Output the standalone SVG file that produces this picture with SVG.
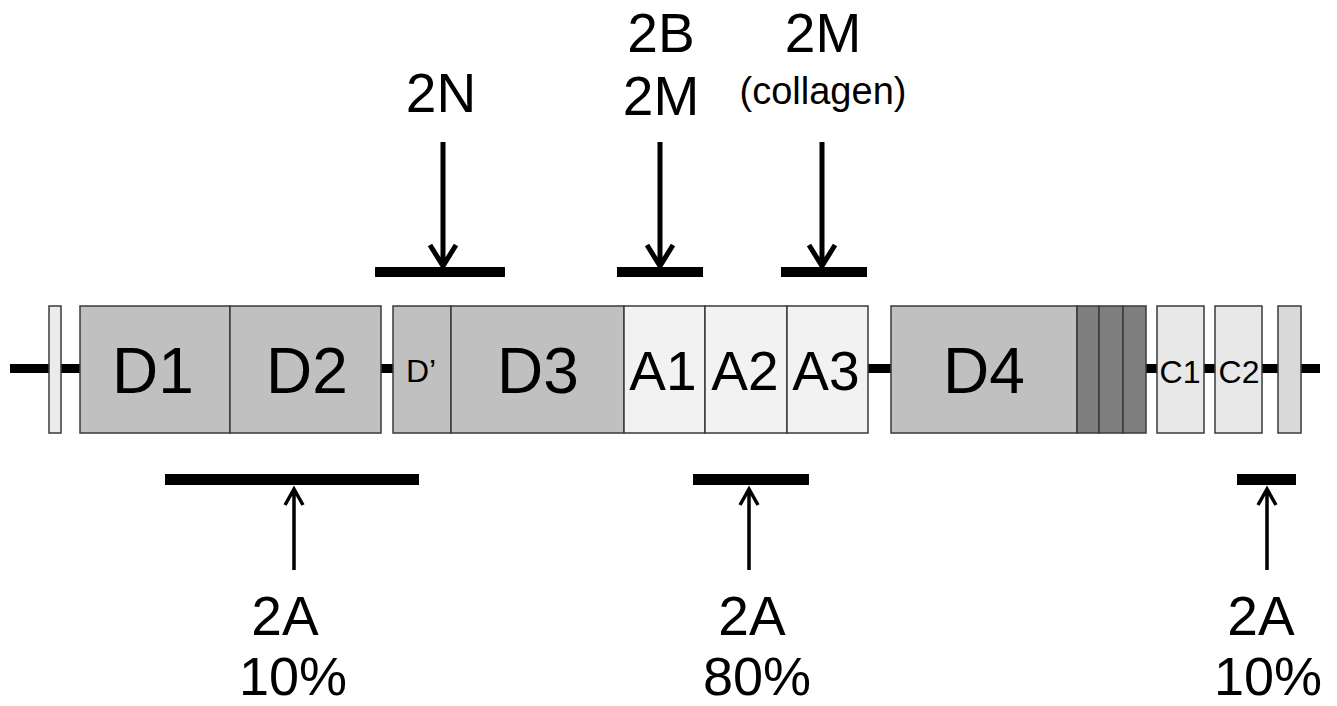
<svg xmlns="http://www.w3.org/2000/svg" width="1337" height="706" viewBox="0 0 1337 706">
  <style>
    .box { stroke: #3a3a3a; stroke-width: 1.5; }
    .d { fill: #c0c0c0; }
    .a { fill: #f2f2f2; }
    .c { fill: #e8e8e8; }
    .end { fill: #d9d9d9; }
    .sig { fill: #ebebeb; }
    .dark { fill: #7f7f7f; }
    text { font-family: "Liberation Sans", Arial, sans-serif; fill: #000; text-anchor: middle; }
    .big { font-size: 64px; }
    .mid { font-size: 55px; }
    .pct { font-size: 54px; }
    .small { font-size: 32px; }
    .note { font-size: 38px; }
    .bar { fill: #000; }
    .shaft { stroke: #000; fill: none; stroke-linecap: butt; stroke-linejoin: miter; }
    .top { stroke-width: 5; }
    .bot { stroke-width: 3.5; }
  </style>

  <!-- backbone -->
  <g id="connectors">
    <rect x="10" y="364" width="1310" height="9" fill="#000"/>
  </g>

  <!-- protein domains -->
  <g id="signal">
    <rect class="box sig" x="49" y="306" width="12" height="127"/>
  </g>
  <g id="D1">
    <rect class="box d" x="80" y="306" width="150" height="127"/>
    <text class="big" x="153" y="393">D1</text>
  </g>
  <g id="D2">
    <rect class="box d" x="230" y="306" width="151" height="127"/>
    <text class="big" x="307" y="393">D2</text>
  </g>
  <g id="Dprime">
    <rect class="box d" x="393" y="306" width="58" height="127"/>
    <text class="small" x="421" y="382">D’</text>
  </g>
  <g id="D3">
    <rect class="box d" x="451" y="306" width="173" height="127"/>
    <text class="big" x="538" y="393">D3</text>
  </g>
  <g id="A1">
    <rect class="box a" x="624" y="306" width="81" height="127"/>
    <text class="mid" x="663" y="390">A1</text>
  </g>
  <g id="A2">
    <rect class="box a" x="705" y="306" width="82" height="127"/>
    <text class="mid" x="745" y="390">A2</text>
  </g>
  <g id="A3">
    <rect class="box a" x="787" y="306" width="81" height="127"/>
    <text class="mid" x="826" y="390">A3</text>
  </g>
  <g id="D4">
    <rect class="box d" x="891" y="306" width="186" height="127"/>
    <text class="big" x="984" y="393">D4</text>
  </g>
  <g id="B-region">
    <rect class="box dark" x="1077" y="306" width="22" height="127"/>
    <rect class="box dark" x="1099" y="306" width="24" height="127"/>
    <rect class="box dark" x="1123" y="306" width="23" height="127"/>
  </g>
  <g id="C1">
    <rect class="box c" x="1157" y="306" width="47" height="127"/>
    <text class="small" x="1180" y="383">C1</text>
  </g>
  <g id="C2">
    <rect class="box c" x="1215" y="306" width="47" height="127"/>
    <text class="small" x="1239" y="383">C2</text>
  </g>
  <g id="CK">
    <rect class="box end" x="1278" y="306" width="23" height="127"/>
  </g>

  <!-- type 2 mutation sites above the domains -->
  <g id="site-2N">
    <text class="mid" x="441" y="112">2N</text>
    <path class="shaft top" d="M443 142 V266 M430 245 L443 266 L456 245"/>
    <rect class="bar" x="375" y="267" width="130" height="10"/>
  </g>
  <g id="site-2B-2M">
    <text class="mid" x="661" y="52">2B</text>
    <text class="mid" x="661" y="115">2M</text>
    <path class="shaft top" d="M660 142 V266 M647 245 L660 266 L673 245"/>
    <rect class="bar" x="617" y="267" width="86" height="10"/>
  </g>
  <g id="site-2M-collagen">
    <text class="mid" x="823" y="52">2M</text>
    <text class="note" x="823" y="104">(collagen)</text>
    <path class="shaft top" d="M822 142 V266 M809 245 L822 266 L835 245"/>
    <rect class="bar" x="781" y="267" width="86" height="10"/>
  </g>

  <!-- type 2A mutation sites below the domains -->
  <g id="site-2A-D2">
    <rect class="bar" x="165" y="474" width="254" height="11"/>
    <path class="shaft bot" d="M294 570 V489 M285 505 L294 489 L303 505"/>
    <text class="mid" x="285" y="635">2A</text>
    <text class="pct" x="293" y="695">10%</text>
  </g>
  <g id="site-2A-A2">
    <rect class="bar" x="693" y="474" width="116" height="11"/>
    <path class="shaft bot" d="M749 570 V489 M740 505 L749 489 L758 505"/>
    <text class="mid" x="752" y="635">2A</text>
    <text class="pct" x="757" y="695">80%</text>
  </g>
  <g id="site-2A-CK">
    <rect class="bar" x="1237" y="474" width="59" height="11"/>
    <path class="shaft bot" d="M1267 570 V489 M1258 505 L1267 489 L1276 505"/>
    <text class="mid" x="1261" y="635">2A</text>
    <text class="pct" x="1268" y="695">10%</text>
  </g>
</svg>
